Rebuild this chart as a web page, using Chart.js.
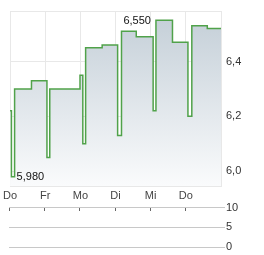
<!DOCTYPE html>
<html><head><meta charset="utf-8">
<script src="https://cdn.jsdelivr.net/npm/chart.js@4"></script>
<style>
html,body{margin:0;padding:0;background:#fff;width:264px;height:255px;overflow:hidden}
canvas{position:absolute;left:0}
</style></head><body>
<canvas id="main" width="264" height="200" style="top:0"></canvas>
<canvas id="vol" width="264" height="55" style="top:200px"></canvas>
<script>
const dayLabels = ['Do', 'Fr', 'Mo', 'Di', 'Mi', 'Do'];
const times  = [0, 0.04, 0.13, 0.61, 1.05, 1.13, 1.99, 2.07, 2.15, 2.62, 3.06, 3.17, 3.59, 4.07, 4.15, 4.62, 5.06, 5.17, 5.61, 6.0];
const prices = [6.22, 5.98, 6.30, 6.33, 6.05, 6.30, 6.35, 6.10, 6.45, 6.46, 6.13, 6.51, 6.49, 6.22, 6.55, 6.47, 6.20, 6.53, 6.52, 6.52];
const priceTicks = [6.0, 6.2, 6.4];
const priceMin = 5.946, priceMax = 6.582;
const volumeTicks = [0, 5, 10];
const volumes = [];

const FONT = {family: '"Liberation Sans", Arial, sans-serif', size: 11};
const GRID = '#e8e8e8';

const extremaLabels = {
  id: 'extremaLabels',
  afterDatasetsDraw(chart) {
    const ctx = chart.ctx;
    const xs = chart.scales.x, ys = chart.scales.y;
    let iMin = 0, iMax = 0;
    prices.forEach((v, i) => { if (v < prices[iMin]) iMin = i; if (v > prices[iMax]) iMax = i; });
    ctx.save();
    ctx.font = '11px "Liberation Sans", Arial, sans-serif';
    ctx.fillStyle = '#111';
    ctx.textBaseline = 'middle';
    ctx.textAlign = 'left';
    ctx.fillText(prices[iMin].toFixed(3).replace('.', ','), xs.getPixelForValue(times[iMin + 1]) + 2, ys.getPixelForValue(prices[iMin]));
    ctx.textAlign = 'right';
    ctx.fillText(prices[iMax].toFixed(3).replace('.', ','), xs.getPixelForValue(times[iMax]) - 5, ys.getPixelForValue(prices[iMax]) + 1);
    ctx.restore();
  }
};

new Chart(document.getElementById('main'), {
  type: 'line',
  data: {
    datasets: [{
      data: times.map((t, i) => ({x: t, y: prices[i]})),
      stepped: true,
      borderColor: 'rgb(80,162,74)',
      borderWidth: 1.5,
      pointRadius: 0,
      fill: 'start',
      backgroundColor: (c) => {
        const a = c.chart.chartArea;
        if (!a) return 'rgba(200,210,218,0.7)';
        const g = c.chart.ctx.createLinearGradient(0, a.top, 0, a.bottom);
        g.addColorStop(0, 'rgb(195,206,215)');
        g.addColorStop(1, 'rgb(250,251,252)');
        return g;
      }
    }]
  },
  options: {
    responsive: false, animation: false, events: [],
    layout: {padding: {left: 9, top: 8, right: 0, bottom: 0}},
    plugins: {legend: {display: false}, tooltip: {enabled: false}},
    scales: {
      x: {
        type: 'linear', min: 0, max: 6, position: 'bottom',
        afterBuildTicks: s => { s.ticks = [0, 1, 2, 3, 4, 5, 6].map(v => ({value: v})); },
        ticks: {autoSkip: false, maxRotation: 0, padding: 3, color: '#444', font: FONT,
                callback: v => dayLabels[v] !== undefined ? dayLabels[v] : ''},
        grid: {color: GRID, drawTicks: false},
        border: {color: GRID},
        afterFit: s => { s.height = 14; }
      },
      y: {
        position: 'right', min: priceMin, max: priceMax,
        afterBuildTicks: s => { s.ticks = [priceMin, ...priceTicks, priceMax].map(v => ({value: v})); },
        ticks: {padding: 5, color: '#333', font: FONT,
                callback: v => priceTicks.includes(v) ? v.toFixed(1).replace('.', ',') : ''},
        grid: {color: GRID, drawTicks: false},
        border: {color: GRID},
        afterFit: s => { s.width = 43; }
      }
    }
  },
  plugins: [extremaLabels]
});

new Chart(document.getElementById('vol'), {
  type: 'line',
  data: {datasets: [{data: volumes, pointRadius: 0}]},
  options: {
    responsive: false, animation: false, events: [],
    layout: {padding: {left: 9, top: 7, right: 0, bottom: 8}},
    plugins: {legend: {display: false}, tooltip: {enabled: false}},
    scales: {
      x: {
        type: 'linear', min: 0, max: 6, position: {y: 10},
        afterBuildTicks: s => { s.ticks = [0, 1, 2, 3, 4, 5].map(v => ({value: v})); },
        ticks: {display: false},
        grid: {drawOnChartArea: false, drawTicks: true, tickLength: 3, color: '#666', tickColor: '#666'},
        border: {color: '#c8c8c8'}
      },
      y: {
        position: 'right', min: 0, max: 10,
        afterBuildTicks: s => { s.ticks = volumeTicks.map(v => ({value: v})); },
        ticks: {padding: 1, color: '#333', font: FONT},
        grid: {color: '#c8c8c8', tickLength: 4},
        border: {display: false},
        afterFit: s => { s.width = 43; }
      }
    }
  }
});
</script>
</body></html>
